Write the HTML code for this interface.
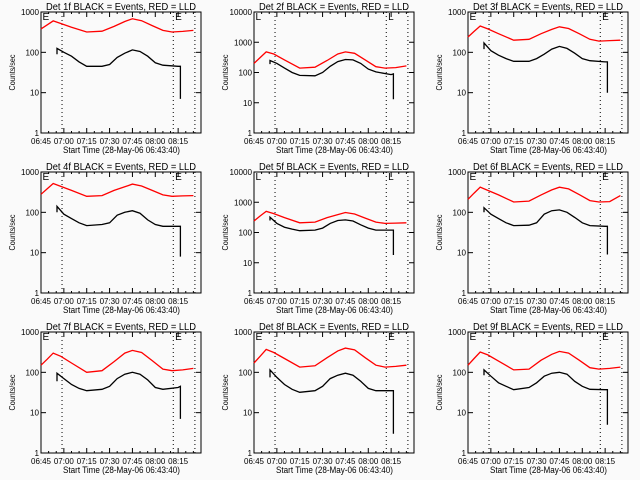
<!DOCTYPE html>
<html><head><meta charset="utf-8">
<style>
html,body{margin:0;padding:0;background:#fafafa;}
svg{display:block;font-family:"Liberation Sans",sans-serif;}
</style></head>
<body>
<svg id="chart" width="640" height="480" viewBox="0 0 640 480" xmlns="http://www.w3.org/2000/svg">
<rect width="640" height="480" fill="#fafafa"/>
</svg>
<script>
const detNames=["1f","2f","3f","4f","5f","6f","7f","8f","9f"];
const yMaxDecade=[3,4,3,3,4,3,3,3,3];
const xTickLabels=["06:45","07:00","07:15","07:30","07:45","08:00","08:15"];
const markerTimes=[13.8,86.8,101];
const redT=[0,4,8,13,20,30,40,48,55,60,66,73,80,86,93,100];
const red1=[380,480,600,520,420,320,335,440,580,680,610,460,350,320,330,350];
const red2=[200,310,480,410,260,140,150,250,410,480,430,260,155,140,145,165];
const red3=[240,330,450,380,290,200,210,290,370,430,390,290,210,190,195,200];
const red4=[280,380,520,440,350,250,260,350,430,500,450,350,270,250,255,260];
const red5=[240,350,500,420,310,210,220,310,390,460,410,300,220,200,205,210];
const red6=[210,300,420,350,270,180,190,270,360,420,380,275,195,180,185,260];
const red7=[150,210,300,250,170,100,110,185,300,350,310,195,120,110,115,125];
const red8=[170,250,370,310,220,135,145,230,340,400,360,230,150,135,140,150];
const red9=[150,220,320,270,190,115,120,200,280,330,300,200,130,120,125,135];
const blackT=[10.5,10.5,15,20,25,30,40,45,50,55,60,65,70,75,80,90,91.5,91.5];
const black1=[90,125,100,80,58,45,45,50,75,95,115,105,80,55,48,45,45,7];
const black2=[190,250,200,140,100,80,78,100,160,230,270,260,200,130,105,85,90,13];
const black3=[120,170,110,85,70,60,60,70,90,120,140,125,95,70,62,58,58,10];
const black4=[100,140,90,70,55,47,50,55,85,100,110,95,65,50,45,45,45,8];
const black5=[250,320,200,150,130,115,120,140,200,250,260,240,180,140,120,120,120,18];
const black6=[100,130,90,70,55,47,48,55,90,110,115,100,75,55,47,45,45,9];
const black7=[60,95,70,50,40,35,38,45,70,90,100,90,65,42,38,42,45,7];
const black8=[75,115,75,50,38,32,35,45,70,85,95,85,60,40,35,35,35,3];
const black9=[85,115,80,55,45,37,42,55,80,95,100,90,60,45,38,37,37,5];
const reds=[red1,red2,red3,red4,red5,red6,red7,red8,red9];
const blacks=[black1,black2,black3,black4,black5,black6,black7,black8,black9];

const NS="http://www.w3.org/2000/svg";
const svg=document.getElementById('chart');
function mk(tag,attrs,parent){const e=document.createElementNS(NS,tag);for(const k in attrs)e.setAttribute(k,attrs[k]);(parent||svg).appendChild(e);return e;}
const colX=[0,213,427], rowY=[0,160,320];
const TMAX=105;
const fit={lengthAdjust:'spacingAndGlyphs'};
for(let p=0;p<9;p++){
  const ox=colX[p%3], oy=rowY[Math.floor(p/3)];
  const L=ox+41,R=ox+201,T=oy+12,B=oy+133;
  const dmax=yMaxDecade[p];
  const xs=t=>L+(t/TMAX)*(R-L);
  const ys=v=>B-(Math.log10(Math.max(v,1))/dmax)*(B-T);
  const g=mk('g',{});
  
  
  const title=mk('text',{x:(L+R)/2,y:oy+10,'text-anchor':'middle','font-size':'10',textLength:150,lengthAdjust:'spacingAndGlyphs'},g);
  title.textContent='Det '+detNames[p]+' BLACK = Events, RED = LLD';
  
  
  const frame=mk('rect',{x:L,y:T,width:R-L,height:B-T,fill:'none',stroke:'#000','stroke-width':1},g);
  
  
  for(let d=0;d<=dmax;d++){
    const y=ys(Math.pow(10,d));
    mk('line',{x1:L,x2:L+5,y1:y,y2:y,stroke:'#000'},g);
    mk('line',{x1:R-5,x2:R,y1:y,y2:y,stroke:'#000'},g);
    const s=String(Math.pow(10,d));
    const tl=mk('text',{x:L-2,y:y+3,'text-anchor':'end','font-size':'8',textLength:s.length*4.5,lengthAdjust:'spacingAndGlyphs'},g);
    tl.textContent=s;
    
    
  }
  for(let m=0;m<=TMAX;m+=5){
    const x=xs(m), len=(m%15===0)?5:2;
    mk('line',{x1:x,x2:x,y1:B,y2:B-len,stroke:'#000'},g);
    mk('line',{x1:x,x2:x,y1:T,y2:T+len,stroke:'#000'},g);
  }
  xTickLabels.forEach((lab,i)=>{
    const tl=mk('text',{x:xs(i*15),y:B+11,'text-anchor':'middle','font-size':'8',textLength:20,lengthAdjust:'spacingAndGlyphs'},g);
    tl.textContent=lab;
    
    
  });
  const xt=mk('text',{x:ox+121.5,y:B+20,'text-anchor':'middle','font-size':'9',textLength:117,lengthAdjust:'spacingAndGlyphs'},g);
  xt.textContent='Start Time (28-May-06 06:43:40)';
  
  
  const yt=mk('text',{x:0,y:0,'text-anchor':'middle','font-size':'8',textLength:36,lengthAdjust:'spacingAndGlyphs',transform:'translate('+(ox+15)+','+((T+B)/2)+') rotate(-90)'},g);
  yt.textContent='Counts/sec';
  
  
  markerTimes.forEach(t=>{
    const ml=mk('line',{x1:xs(t),x2:xs(t),y1:T,y2:B,stroke:'#000','stroke-dasharray':'1,3'},g);
    
    
  });
  [1,88].forEach(t=>{
    const e=mk('text',{x:xs(t),y:T+8,'font-size':'10'},g);
    e.textContent=dmax===4?'L':'E';
    
    
  });
  const rp=mk('polyline',{points:redT.map((t,i)=>xs(t).toFixed(1)+','+ys(reds[p][i]).toFixed(1)).join(' '),fill:'none',stroke:'#f00','stroke-width':1.3},g);
  
  
  const bp=mk('polyline',{points:blackT.map((t,i)=>xs(t).toFixed(1)+','+ys(blacks[p][i]).toFixed(1)).join(' '),fill:'none',stroke:'#000','stroke-width':1.3},g);
  
  
}
</script>
</body></html>
